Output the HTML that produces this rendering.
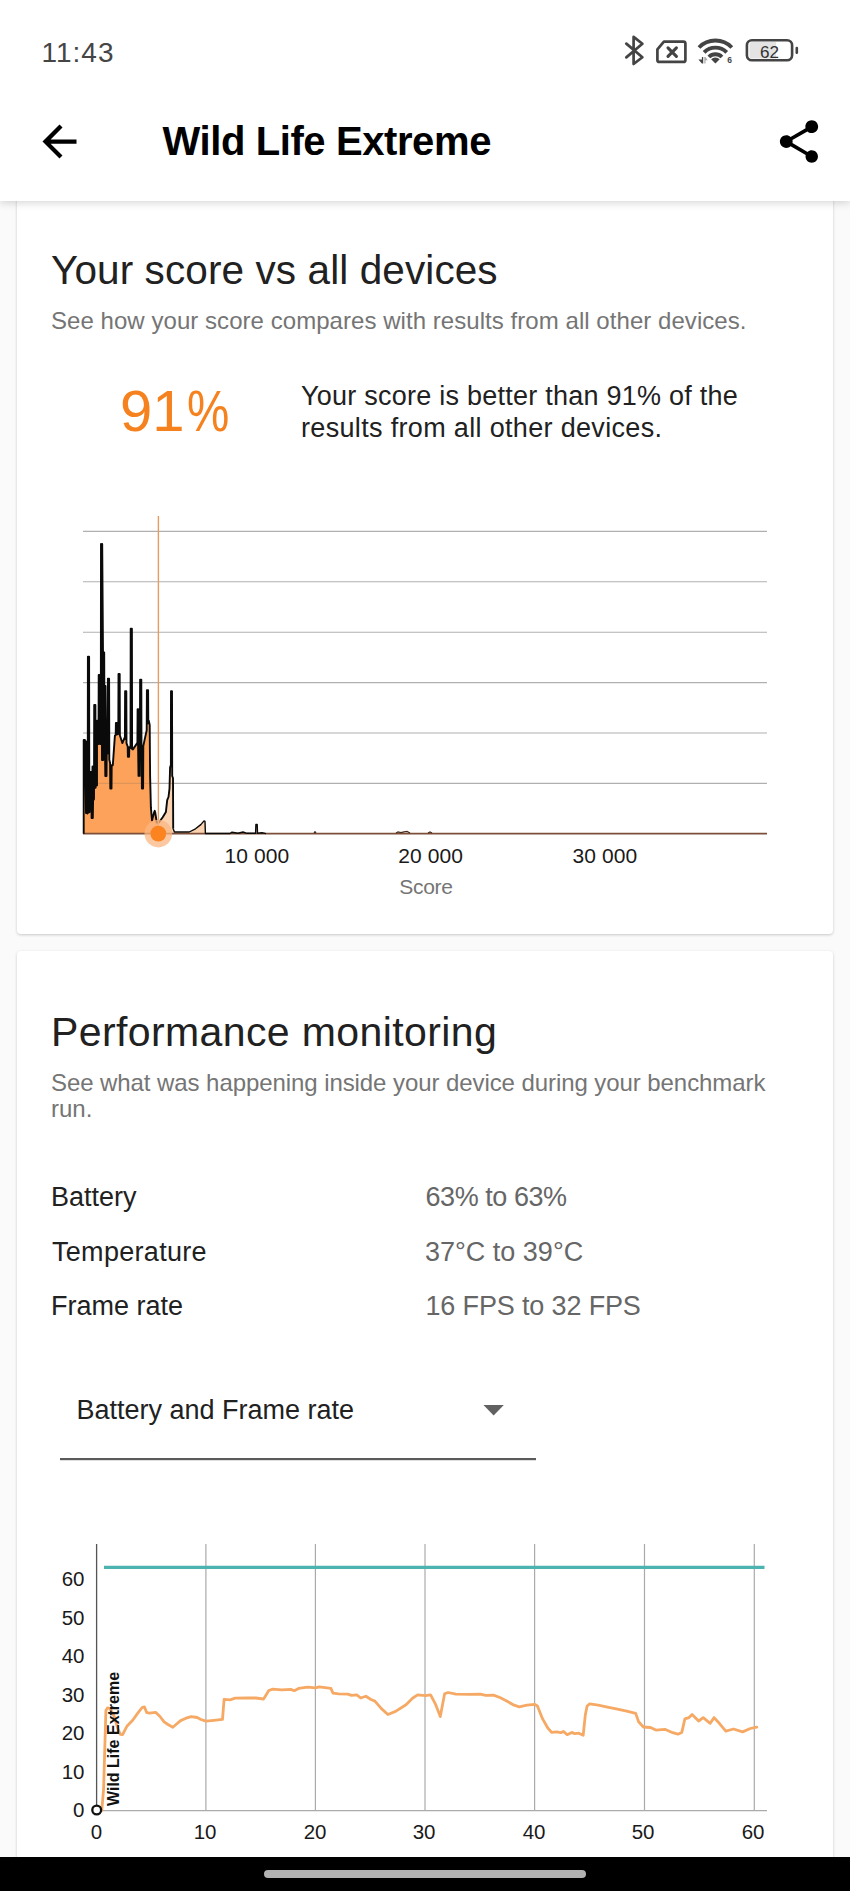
<!DOCTYPE html>
<html lang="en">
<head>
<meta charset="utf-8">
<title>Wild Life Extreme</title>
<style>
html,body{margin:0;padding:0;}
body{width:850px;height:1891px;position:relative;overflow:hidden;background:#fafafa;font-family:"Liberation Sans",sans-serif;color:#212121;}
.t{position:absolute;white-space:nowrap;line-height:1;margin:0;}
#appbar{position:absolute;left:0;top:0;width:850px;height:201px;background:#fff;box-shadow:0 2px 8px rgba(0,0,0,.16);z-index:5;}
.card{position:absolute;left:17px;width:816px;background:#fff;border-radius:4px;box-shadow:0 1px 3px rgba(0,0,0,.2);}
#card1{top:180px;height:754px;}
#card2{top:951px;height:960px;}
#nav{position:absolute;left:0;top:1857px;width:850px;height:34px;background:#000;z-index:6;}
#pill{position:absolute;left:263.5px;top:13px;width:322.5px;height:8px;border-radius:4px;background:#b3b2b3;}
svg{position:absolute;left:0;top:0;overflow:visible;}
svg text{font-family:"Liberation Sans",sans-serif;}
.g{color:#757575;}
.v{color:#666;}
</style>
</head>
<body>
<div id="card1" class="card"></div>
<div id="card2" class="card"></div>

<!-- card 1 text -->
<div class="t" id="h1" style="left:51px;top:250px;font-size:40.5px;letter-spacing:.1px;">Your score vs all devices</div>
<div class="t g" id="s1" style="left:51px;top:309px;font-size:24px;letter-spacing:.05px;">See how your score compares with results from all other devices.</div>
<div class="t" id="pct" style="left:120px;top:382px;font-size:58px;color:#f5821f;">91<span style="display:inline-block;transform:scaleX(.82);transform-origin:0 50%;margin-left:2px;">%</span></div>
<div class="t" id="d1" style="left:301px;top:383px;font-size:27px;letter-spacing:.24px;">Your score is better than 91% of the</div>
<div class="t" id="d2" style="left:301px;top:415px;font-size:27px;letter-spacing:.33px;">results from all other devices.</div>

<!-- card 2 text -->
<div class="t" id="h2" style="left:51px;top:1012px;font-size:41px;letter-spacing:.39px;">Performance monitoring</div>
<div class="t g" id="s2a" style="left:51px;top:1071px;font-size:24px;letter-spacing:-.075px;">See what was happening inside your device during your benchmark</div>
<div class="t g" id="s2b" style="left:51px;top:1097px;font-size:24px;">run.</div>
<div class="t" id="r1l" style="left:51px;top:1184px;font-size:27px;">Battery</div>
<div class="t" id="r2l" style="left:52px;top:1239px;font-size:27px;letter-spacing:.3px;">Temperature</div>
<div class="t" id="r3l" style="left:51px;top:1293px;font-size:27px;">Frame rate</div>
<div class="t v" id="r1v" style="left:425.5px;top:1184px;font-size:27px;letter-spacing:-.45px;">63% to 63%</div>
<div class="t v" id="r2v" style="left:425px;top:1239px;font-size:27px;">37°C to 39°C</div>
<div class="t v" id="r3v" style="left:425.5px;top:1293px;font-size:27px;letter-spacing:-.15px;">16 FPS to 32 FPS</div>
<div class="t" id="dd" style="left:76.5px;top:1397px;font-size:27px;">Battery and Frame rate</div>

<!-- chart 1 labels -->
<div class="t" id="x1" style="left:224.5px;top:845px;font-size:21px;letter-spacing:.1px;color:#1a1a1a;">10 000</div>
<div class="t" id="x2" style="left:398.3px;top:845px;font-size:21px;letter-spacing:.1px;color:#1a1a1a;">20 000</div>
<div class="t" id="x3" style="left:572.5px;top:845px;font-size:21px;letter-spacing:.1px;color:#1a1a1a;">30 000</div>
<div class="t g" id="xs" style="left:399.3px;top:876px;font-size:21px;letter-spacing:-.3px;">Score</div>

<!-- chart 2 labels -->
<div class="t" id="y60" style="left:61.7px;top:1568.7px;font-size:20.5px;color:#1a1a1a;">60</div>
<div class="t" id="y50" style="left:61.7px;top:1607.7px;font-size:20.5px;color:#1a1a1a;">50</div>
<div class="t" id="y40" style="left:61.7px;top:1645.7px;font-size:20.5px;color:#1a1a1a;">40</div>
<div class="t" id="y30" style="left:61.7px;top:1684.7px;font-size:20.5px;color:#1a1a1a;">30</div>
<div class="t" id="y20" style="left:61.7px;top:1722.7px;font-size:20.5px;color:#1a1a1a;">20</div>
<div class="t" id="y10" style="left:61.7px;top:1761.7px;font-size:20.5px;color:#1a1a1a;">10</div>
<div class="t" id="y0" style="left:73.1px;top:1799.7px;font-size:20.5px;color:#1a1a1a;">0</div>
<div class="t" id="t0" style="left:90.8px;top:1821.7px;font-size:20.5px;color:#1a1a1a;">0</div>
<div class="t" id="t10" style="left:193.7px;top:1821.7px;font-size:20.5px;color:#1a1a1a;">10</div>
<div class="t" id="t20" style="left:303.7px;top:1821.7px;font-size:20.5px;color:#1a1a1a;">20</div>
<div class="t" id="t30" style="left:412.7px;top:1821.7px;font-size:20.5px;color:#1a1a1a;">30</div>
<div class="t" id="t40" style="left:522.7px;top:1821.7px;font-size:20.5px;color:#1a1a1a;">40</div>
<div class="t" id="t50" style="left:631.7px;top:1821.7px;font-size:20.5px;color:#1a1a1a;">50</div>
<div class="t" id="t60" style="left:741.7px;top:1821.7px;font-size:20.5px;color:#1a1a1a;">60</div>

<svg id="charts" width="850" height="1891" viewBox="0 0 850 1891">
  <!-- chart 1 grid -->
  <g stroke="#b0b0b0" stroke-width="1.1">
    <line x1="83" y1="531.4" x2="767" y2="531.4"/>
    <line x1="83" y1="581.8" x2="767" y2="581.8"/>
    <line x1="83" y1="632.2" x2="767" y2="632.2"/>
    <line x1="83" y1="682.6" x2="767" y2="682.6"/>
    <line x1="83" y1="733" x2="767" y2="733"/>
    <line x1="83" y1="783.4" x2="767" y2="783.4"/>
  </g>
  <defs>
    <clipPath id="cl"><rect x="0" y="500" width="158.4" height="340"/></clipPath>
    <clipPath id="cf"><path d="M83.7 833.7 L83.7 739.9 L83.7 739.9 L84.9 739.9 L85.0 741.5 L86.0 813.0 L86.2 741.5 L87.2 813.0 L87.4 813.5 L87.7 813.3 L87.9 656.6 L89.1 656.6 L89.3 812.2 L89.6 812.0 L90.4 772.0 L91.4 772.0 L91.6 818.0 L92.5 766.4 L92.8 818.0 L93.7 766.4 L93.9 799.5 L94.0 798.4 L94.2 704.9 L95.4 704.9 L95.6 787.7 L95.6 787.3 L95.8 785.4 L97.0 785.4 L97.0 720.8 L98.2 720.8 L98.4 744.1 L98.5 744.1 L98.7 675.0 L99.9 675.0 L100.1 744.1 L100.8 744.1 L101.0 543.9 L102.0 760.0 L102.2 543.9 L103.0 652.4 L103.2 760.0 L104.2 652.4 L104.3 686.0 L105.3 776.0 L105.5 686.0 L106.5 776.0 L106.7 752.6 L107.5 752.6 L107.7 753.5 L107.9 678.6 L109.1 678.6 L109.3 759.6 L110.1 763.0 L110.3 788.6 L111.5 788.6 L111.7 765.3 L112.8 765.3 L114.9 735.6 L115.7 735.2 L115.9 723.0 L117.1 723.0 L117.3 734.4 L118.3 733.9 L118.5 674.0 L119.7 674.0 L119.9 735.5 L122.4 743.1 L124.5 737.8 L124.9 739.0 L125.1 691.2 L126.3 691.2 L126.5 743.1 L127.6 746.2 L127.7 746.3 L127.9 756.8 L129.1 756.8 L129.3 747.2 L130.5 748.0 L130.7 628.8 L131.9 628.8 L132.1 748.9 L132.9 749.4 L137.2 743.1 L137.4 743.7 L137.6 709.2 L138.5 775.9 L138.8 709.2 L139.7 775.9 L139.9 750.5 L139.9 750.6 L140.1 679.6 L141.3 679.6 L141.5 754.4 L141.7 753.2 L141.9 788.6 L143.1 788.6 L143.3 746.1 L144.6 739.9 L146.7 730.2 L146.9 690.1 L148.1 690.1 L148.3 723.2 L148.8 720.8 L149.7 725.0 L150.1 775.9 L150.9 807.7 L152.0 820.4 L154.2 812.0 L154.7 810.8 L155.2 812.5 L156.8 822.5 L158.9 822.5 L162.7 817.2 L165.9 811.9 L167.2 800.2 L168.5 797.0 L169.5 788.6 L170.1 767.4 L170.9 765.0 L171.0 691.2 L172.0 691.2 L172.2 776.0 L173.0 778.0 L173.2 828.8 L174.4 832.0 L189.2 832.0 L195.5 828.8 L200.8 824.6 L204.0 820.9 L205.0 821.4 L205.4 833.5 L230.0 833.5 L232.0 832.2 L238.0 833.3 L243.0 832.0 L247.0 833.3 L255.6 833.3 L255.9 824.5 L257.2 824.5 L257.5 833.3 L262.0 832.8 L266.0 833.6 L266 833.7 L83.7 833.7 Z"/></clipPath>
    <clipPath id="cr"><rect x="158.4" y="500" width="700" height="340"/></clipPath>
  </defs>
  <path d="M83.7 833.7 L83.7 739.9 L83.7 739.9 L84.9 739.9 L85.0 741.5 L86.0 813.0 L86.2 741.5 L87.2 813.0 L87.4 813.5 L87.7 813.3 L87.9 656.6 L89.1 656.6 L89.3 812.2 L89.6 812.0 L90.4 772.0 L91.4 772.0 L91.6 818.0 L92.5 766.4 L92.8 818.0 L93.7 766.4 L93.9 799.5 L94.0 798.4 L94.2 704.9 L95.4 704.9 L95.6 787.7 L95.6 787.3 L95.8 785.4 L97.0 785.4 L97.0 720.8 L98.2 720.8 L98.4 744.1 L98.5 744.1 L98.7 675.0 L99.9 675.0 L100.1 744.1 L100.8 744.1 L101.0 543.9 L102.0 760.0 L102.2 543.9 L103.0 652.4 L103.2 760.0 L104.2 652.4 L104.3 686.0 L105.3 776.0 L105.5 686.0 L106.5 776.0 L106.7 752.6 L107.5 752.6 L107.7 753.5 L107.9 678.6 L109.1 678.6 L109.3 759.6 L110.1 763.0 L110.3 788.6 L111.5 788.6 L111.7 765.3 L112.8 765.3 L114.9 735.6 L115.7 735.2 L115.9 723.0 L117.1 723.0 L117.3 734.4 L118.3 733.9 L118.5 674.0 L119.7 674.0 L119.9 735.5 L122.4 743.1 L124.5 737.8 L124.9 739.0 L125.1 691.2 L126.3 691.2 L126.5 743.1 L127.6 746.2 L127.7 746.3 L127.9 756.8 L129.1 756.8 L129.3 747.2 L130.5 748.0 L130.7 628.8 L131.9 628.8 L132.1 748.9 L132.9 749.4 L137.2 743.1 L137.4 743.7 L137.6 709.2 L138.5 775.9 L138.8 709.2 L139.7 775.9 L139.9 750.5 L139.9 750.6 L140.1 679.6 L141.3 679.6 L141.5 754.4 L141.7 753.2 L141.9 788.6 L143.1 788.6 L143.3 746.1 L144.6 739.9 L146.7 730.2 L146.9 690.1 L148.1 690.1 L148.3 723.2 L148.8 720.8 L149.7 725.0 L150.1 775.9 L150.9 807.7 L152.0 820.4 L154.2 812.0 L154.7 810.8 L155.2 812.5 L156.8 822.5 L158.9 822.5 L162.7 817.2 L165.9 811.9 L167.2 800.2 L168.5 797.0 L169.5 788.6 L170.1 767.4 L170.9 765.0 L171.0 691.2 L172.0 691.2 L172.2 776.0 L173.0 778.0 L173.2 828.8 L174.4 832.0 L189.2 832.0 L195.5 828.8 L200.8 824.6 L204.0 820.9 L205.0 821.4 L205.4 833.5 L230.0 833.5 L232.0 832.2 L238.0 833.3 L243.0 832.0 L247.0 833.3 L255.6 833.3 L255.9 824.5 L257.2 824.5 L257.5 833.3 L262.0 832.8 L266.0 833.6 L266 833.7 L83.7 833.7 Z" fill="#fda25a" clip-path="url(#cl)"/>
  <path d="M83.7 833.7 L83.7 739.9 L83.7 739.9 L84.9 739.9 L85.0 741.5 L86.0 813.0 L86.2 741.5 L87.2 813.0 L87.4 813.5 L87.7 813.3 L87.9 656.6 L89.1 656.6 L89.3 812.2 L89.6 812.0 L90.4 772.0 L91.4 772.0 L91.6 818.0 L92.5 766.4 L92.8 818.0 L93.7 766.4 L93.9 799.5 L94.0 798.4 L94.2 704.9 L95.4 704.9 L95.6 787.7 L95.6 787.3 L95.8 785.4 L97.0 785.4 L97.0 720.8 L98.2 720.8 L98.4 744.1 L98.5 744.1 L98.7 675.0 L99.9 675.0 L100.1 744.1 L100.8 744.1 L101.0 543.9 L102.0 760.0 L102.2 543.9 L103.0 652.4 L103.2 760.0 L104.2 652.4 L104.3 686.0 L105.3 776.0 L105.5 686.0 L106.5 776.0 L106.7 752.6 L107.5 752.6 L107.7 753.5 L107.9 678.6 L109.1 678.6 L109.3 759.6 L110.1 763.0 L110.3 788.6 L111.5 788.6 L111.7 765.3 L112.8 765.3 L114.9 735.6 L115.7 735.2 L115.9 723.0 L117.1 723.0 L117.3 734.4 L118.3 733.9 L118.5 674.0 L119.7 674.0 L119.9 735.5 L122.4 743.1 L124.5 737.8 L124.9 739.0 L125.1 691.2 L126.3 691.2 L126.5 743.1 L127.6 746.2 L127.7 746.3 L127.9 756.8 L129.1 756.8 L129.3 747.2 L130.5 748.0 L130.7 628.8 L131.9 628.8 L132.1 748.9 L132.9 749.4 L137.2 743.1 L137.4 743.7 L137.6 709.2 L138.5 775.9 L138.8 709.2 L139.7 775.9 L139.9 750.5 L139.9 750.6 L140.1 679.6 L141.3 679.6 L141.5 754.4 L141.7 753.2 L141.9 788.6 L143.1 788.6 L143.3 746.1 L144.6 739.9 L146.7 730.2 L146.9 690.1 L148.1 690.1 L148.3 723.2 L148.8 720.8 L149.7 725.0 L150.1 775.9 L150.9 807.7 L152.0 820.4 L154.2 812.0 L154.7 810.8 L155.2 812.5 L156.8 822.5 L158.9 822.5 L162.7 817.2 L165.9 811.9 L167.2 800.2 L168.5 797.0 L169.5 788.6 L170.1 767.4 L170.9 765.0 L171.0 691.2 L172.0 691.2 L172.2 776.0 L173.0 778.0 L173.2 828.8 L174.4 832.0 L189.2 832.0 L195.5 828.8 L200.8 824.6 L204.0 820.9 L205.0 821.4 L205.4 833.5 L230.0 833.5 L232.0 832.2 L238.0 833.3 L243.0 832.0 L247.0 833.3 L255.6 833.3 L255.9 824.5 L257.2 824.5 L257.5 833.3 L262.0 832.8 L266.0 833.6 L266 833.7 L83.7 833.7 Z" fill="#fcd3b0" clip-path="url(#cr)"/>
  <g stroke="#c98a58" stroke-width="1.1" stroke-opacity=".55" clip-path="url(#cf)">
    <line x1="83" y1="682.6" x2="175" y2="682.6"/>
    <line x1="83" y1="733" x2="175" y2="733"/>
    <line x1="83" y1="783.4" x2="175" y2="783.4"/>
  </g>
  <line x1="83" y1="833.6" x2="767" y2="833.6" stroke="#7d4f38" stroke-width="1.7"/>
  <path d="M314 833l1-1.200 1 1.200M396 833l2-1 3 .6 3-.8 3-.4 3 1.600M428 833l2-1 2 1" fill="none" stroke="#4a2a1a" stroke-width="1.200"/>
  <path d="M83.7 833.7 L83.7 739.9 L83.7 739.9 L84.9 739.9 L85.0 741.5 L86.0 813.0 L86.2 741.5 L87.2 813.0 L87.4 813.5 L87.7 813.3 L87.9 656.6 L89.1 656.6 L89.3 812.2 L89.6 812.0 L90.4 772.0 L91.4 772.0 L91.6 818.0 L92.5 766.4 L92.8 818.0 L93.7 766.4 L93.9 799.5 L94.0 798.4 L94.2 704.9 L95.4 704.9 L95.6 787.7 L95.6 787.3 L95.8 785.4 L97.0 785.4 L97.0 720.8 L98.2 720.8 L98.4 744.1 L98.5 744.1 L98.7 675.0 L99.9 675.0 L100.1 744.1 L100.8 744.1 L101.0 543.9 L102.0 760.0 L102.2 543.9 L103.0 652.4 L103.2 760.0 L104.2 652.4 L104.3 686.0 L105.3 776.0 L105.5 686.0 L106.5 776.0 L106.7 752.6 L107.5 752.6 L107.7 753.5 L107.9 678.6 L109.1 678.6 L109.3 759.6 L110.1 763.0 L110.3 788.6 L111.5 788.6 L111.7 765.3 L112.8 765.3 L114.9 735.6 L115.7 735.2 L115.9 723.0 L117.1 723.0 L117.3 734.4 L118.3 733.9 L118.5 674.0 L119.7 674.0 L119.9 735.5 L122.4 743.1 L124.5 737.8 L124.9 739.0 L125.1 691.2 L126.3 691.2 L126.5 743.1 L127.6 746.2 L127.7 746.3 L127.9 756.8 L129.1 756.8 L129.3 747.2 L130.5 748.0 L130.7 628.8 L131.9 628.8 L132.1 748.9 L132.9 749.4 L137.2 743.1 L137.4 743.7 L137.6 709.2 L138.5 775.9 L138.8 709.2 L139.7 775.9 L139.9 750.5 L139.9 750.6 L140.1 679.6 L141.3 679.6 L141.5 754.4 L141.7 753.2 L141.9 788.6 L143.1 788.6 L143.3 746.1 L144.6 739.9 L146.7 730.2 L146.9 690.1 L148.1 690.1 L148.3 723.2 L148.8 720.8 L149.7 725.0 L150.1 775.9 L150.9 807.7 L152.0 820.4 L154.2 812.0 L154.7 810.8 L155.2 812.5 L156.8 822.5 L158.9 822.5 L162.7 817.2 L165.9 811.9 L167.2 800.2 L168.5 797.0 L169.5 788.6 L170.1 767.4 L170.9 765.0 L171.0 691.2 L172.0 691.2 L172.2 776.0 L173.0 778.0 L173.2 828.8" fill="none" stroke="#0a0a0a" stroke-width="1.9" stroke-linejoin="round"/>
  <path d="M173.2 828.8 L174.4 832.0 L189.2 832.0 L195.5 828.8 L200.8 824.6 L204.0 820.9 L205.0 821.4 L205.4 833.5 L230.0 833.5 L232.0 832.2 L238.0 833.3 L243.0 832.0 L247.0 833.3 L255.6 833.3 L255.9 824.5 L257.2 824.5 L257.5 833.3 L262.0 832.8 L266.0 833.6" fill="none" stroke="#0a0a0a" stroke-width="1.400" stroke-linejoin="round"/>
  <line x1="158.4" y1="516" x2="158.4" y2="833" stroke="#e89b60" stroke-width="1.400"/>
  <circle cx="158.3" cy="833.6" r="13.8" fill="#f9b682" fill-opacity=".75"/>
  <circle cx="158.3" cy="833.6" r="7.9" fill="#fb8320"/>

  <!-- dropdown -->
  <path d="M483.5 1405.1h20.3l-10.15 10.3z" fill="#616161"/>
  <rect x="60" y="1458" width="476" height="2.2" fill="#5a5a5a"/>

  <!-- chart 2 -->
  <g stroke="#aaa" stroke-width="1.2">
    <line x1="205.9" y1="1544" x2="205.9" y2="1811"/>
    <line x1="315.4" y1="1544" x2="315.4" y2="1811"/>
    <line x1="425" y1="1544" x2="425" y2="1811"/>
    <line x1="534.6" y1="1544" x2="534.6" y2="1811"/>
    <line x1="644.5" y1="1544" x2="644.5" y2="1811"/>
    <line x1="754.3" y1="1544" x2="754.3" y2="1811"/>
    <line x1="96" y1="1810.7" x2="767" y2="1810.7"/>
  </g>
  <line x1="96.6" y1="1544" x2="96.6" y2="1811" stroke="#555" stroke-width="1.3"/>
  <line x1="104" y1="1567.3" x2="764.5" y2="1567.3" stroke="#4db3b1" stroke-width="3.2"/>
  <path d="M101.8 1810.5 L103.6 1788.8 L105.9 1710.5 L107.6 1707.8 L110.0 1708.5 L114.0 1716.0 L118.0 1729.0 L120.3 1734.4 L122.6 1734.6 L127.1 1725.9 L132.7 1720.2 L137.4 1713.6 L142.1 1707.5 L144.4 1706.9 L146.8 1712.7 L149.6 1713.2 L155.6 1712.3 L160.0 1716.5 L164.1 1721.8 L168.0 1724.5 L172.8 1727.2 L176.0 1724.5 L180.6 1720.6 L186.0 1718.2 L191.2 1716.6 L197.1 1717.5 L201.0 1719.5 L205.8 1721.1 L214.0 1720.3 L222.5 1719.4 L224.1 1699.4 L230.0 1699.9 L235.2 1698.2 L248.1 1698.0 L255.9 1698.0 L263.6 1699.0 L268.8 1690.5 L272.7 1689.2 L281.8 1689.9 L290.8 1689.4 L294.2 1690.7 L298.6 1688.4 L307.6 1687.1 L315.4 1687.9 L319.3 1686.8 L330.9 1688.4 L333.0 1693.1 L338.7 1693.8 L347.8 1694.1 L351.6 1695.4 L356.8 1694.9 L360.7 1698.0 L365.9 1696.2 L371.0 1699.5 L374.9 1701.1 L381.4 1708.6 L387.9 1714.5 L395.6 1711.4 L406.0 1704.7 L412.5 1698.2 L417.6 1694.9 L425.4 1695.6 L430.6 1694.9 L435.7 1704.7 L440.3 1716.6 L444.6 1693.8 L448.1 1692.5 L455.9 1694.1 L468.8 1694.3 L480.5 1694.1 L485.6 1695.4 L493.4 1695.1 L499.9 1697.5 L507.6 1701.6 L514.1 1705.2 L519.3 1706.8 L527.0 1705.2 L534.8 1704.4 L537.4 1706.0 L542.6 1718.9 L547.8 1728.0 L551.6 1732.4 L556.8 1731.9 L560.7 1732.7 L563.3 1731.4 L567.2 1734.7 L571.8 1732.4 L574.9 1733.7 L578.8 1733.2 L583.2 1735.2 L585.3 1715.1 L587.1 1706.0 L589.7 1703.9 L598.2 1705.2 L608.6 1707.3 L616.3 1708.8 L626.7 1711.2 L635.7 1713.4 L638.6 1721.8 L643.4 1727.0 L650.4 1727.5 L655.9 1730.1 L664.9 1729.3 L672.7 1732.7 L677.9 1734.2 L681.8 1732.4 L684.9 1718.9 L689.0 1717.6 L692.1 1714.5 L698.6 1721.0 L703.2 1717.6 L710.2 1723.3 L714.1 1717.6 L719.3 1723.3 L725.8 1731.1 L733.5 1729.0 L742.6 1731.9 L750.3 1728.5 L756.8 1727.2" fill="none" stroke="#f6a964" stroke-width="2.8" stroke-linejoin="round" stroke-linecap="round"/>
  <circle cx="96.7" cy="1810" r="4.4" fill="#fff" stroke="#111" stroke-width="2.3"/>
  <text transform="translate(118.9 1806) rotate(-90)" font-size="16" font-weight="bold" fill="#111">Wild Life Extreme</text>
</svg>

<!-- app bar -->
<div id="appbar">
  <div class="t" id="time" style="left:41.5px;top:39px;font-size:28px;color:#454545;letter-spacing:1px;">11:43</div>
  <div class="t" id="title" style="left:162.5px;top:121px;font-size:40px;font-weight:bold;color:#000;letter-spacing:-.4px;">Wild Life Extreme</div>
  <svg width="850" height="201" viewBox="0 0 850 201">
    <!-- back arrow -->
    <g transform="translate(34 116) scale(2.125)"><path d="M20 11H7.83l5.59-5.59L12 4l-8 8 8 8 1.41-1.41L7.83 13H20v-2z" fill="#000"/></g>
    <!-- share -->
    <g transform="translate(773.5 116.1) scale(2.125)"><path d="M18 16.08c-.76 0-1.44.3-1.96.77L8.910 12.700c.05-.23.09-.46.09-.7s-.04-.47-.09-.7l7.050-4.110c.54.5 1.250.81 2.040.81 1.660 0 3-1.340 3-3s-1.340-3-3-3-3 1.340-3 3c0 .24.040.47.090.7L8.040 9.810C7.500 9.310 6.790 9 6 9c-1.660 0-3 1.340-3 3s1.340 3 3 3c.79 0 1.500-.31 2.040-.81l7.120 4.160c-.05.21-.08.43-.08.65 0 1.610 1.310 2.920 2.920 2.920 1.610 0 2.920-1.310 2.920-2.920s-1.310-2.920-2.920-2.920z" fill="#000"/></g>
    <!-- bluetooth -->
    <path d="M626.3 43.6L642.4 57.2L633.6 64V36.9L642.4 43.8L626.3 57.4" fill="none" stroke="#444" stroke-width="2.7" stroke-linejoin="round" stroke-linecap="round"/>
    <!-- sim -->
    <path d="M663.9 41.6H683.4a2 2 0 0 1 2 2V59.9a2 2 0 0 1-2 2H659.4a2 2 0 0 1-2-2V49.3z" fill="none" stroke="#444" stroke-width="2.7" stroke-linejoin="round"/>
    <path d="M668 47.900l8.400 8.400m0-8.400l-8.400 8.400" stroke="#444" stroke-width="3.1" stroke-linecap="round"/>
    <!-- wifi -->
    <g fill="none" stroke="#444" stroke-width="3.9">
      <path d="M699.0 47.5A22.8 22.8 0 0 1 731.8 47.5"/>
      <path d="M704.1 52.4A15.7 15.7 0 0 1 726.7 52.4"/>
      <path d="M708.9 57.0A9.1 9.1 0 0 1 721.9 57.0"/>
    </g>
    <path d="M715.4 63.6l-4.3-4.4a6.100 6.100 0 0 1 8.600 0z" fill="#444"/>
    <path d="M698.4 59.5h3.500v-2.500h1.300v6.400h-1.300z" fill="#444"/>
    <path d="M704.3 63.4v-6.400h1.100l2.400 3.200h-2.300v3.200z" fill="#aaa"/>
    <text x="727.3" y="63.4" font-size="8.500" font-weight="bold" fill="#444">6</text>
    <!-- battery -->
    <rect x="746.9" y="40.3" width="45.200" height="20" rx="5" fill="#fff" stroke="#444" stroke-width="2.6"/>
    <path d="M749.5 44.500a2.500 2.500 0 0 1 2.500-2.500h24v16.600h-24a2.500 2.500 0 0 1-2.500-2.500z" fill="#e3e3e3"/>
    <rect x="795.5" y="46.8" width="2.600" height="7.200" rx="1.200" fill="#444"/>
    <text x="760" y="57.8" font-size="17" fill="#333" textLength="19" lengthAdjust="spacingAndGlyphs">62</text>
  </svg>
</div>

<div id="nav"><div id="pill"></div></div>
</body>
</html>
